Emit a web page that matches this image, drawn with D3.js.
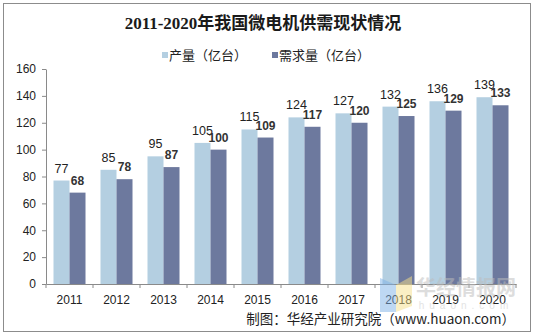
<!DOCTYPE html>
<html><head><meta charset="utf-8">
<script src="https://cdn.jsdelivr.net/npm/d3@7"></script>
<style>body{margin:0;background:#fff;}svg{display:block;}</style>
</head><body>
<script>
const years = ["2011","2012","2013","2014","2015","2016","2017","2018","2019","2020"];
const production = [77,85,95,105,115,124,127,132,136,139];
const demand = [68,78,87,100,109,117,120,125,129,133];
const yTicks = [0,20,40,60,80,100,120,140,160];
const seriesNames = ["产量（亿台）","需求量（亿台）"];
const colors = ["#B4CFE1","#6D799E"];

const W=534,H=335;
const svg=d3.select("body").append("svg").attr("width",W).attr("height",H);
svg.append("rect").attr("x",3.5).attr("y",3.5).attr("width",527).attr("height",328)
  .attr("fill","#fff").attr("stroke","#8c8c8c").attr("stroke-width",1);

const pLeft=46,pRight=516,pTop=69,pBottom=284;
const x=d3.scaleBand().domain(years).range([pLeft,pRight]).paddingInner(0).paddingOuter(0);
const y=d3.scaleLinear().domain([0,160]).range([pBottom,pTop]);
const barW=16;

// title
svg.append("text").attr("x",263).attr("y",29).attr("text-anchor","middle")
  .attr("font-family","'Liberation Serif','Noto Sans CJK SC',serif").attr("font-weight","bold")
  .attr("font-size",17).attr("fill","#1a1a1a").text("2011-2020年我国微电机供需现状情况");

// legend
const leg=[{x:162,t:seriesNames[0],c:colors[0]},{x:272,t:seriesNames[1],c:colors[1]}];
leg.forEach(l=>{
  svg.append("rect").attr("x",l.x).attr("y",52).attr("width",6).attr("height",6).attr("fill",l.c);
  svg.append("text").attr("x",l.x+7).attr("y",60).attr("font-family","'Noto Sans CJK SC',sans-serif")
    .attr("font-size",13).attr("fill","#222").text(l.t);
});

// bars
const g=svg.append("g");
const data=years.map((yr,i)=>({yr,p:production[i],d:demand[i]}));
g.selectAll(".bp").data(data).enter().append("rect")
  .attr("x",d=>x(d.yr)+x.bandwidth()/2-barW).attr("y",d=>y(d.p))
  .attr("width",barW).attr("height",d=>pBottom-y(d.p)).attr("fill",colors[0]);
g.selectAll(".bd").data(data).enter().append("rect")
  .attr("x",d=>x(d.yr)+x.bandwidth()/2).attr("y",d=>y(d.d))
  .attr("width",barW).attr("height",d=>pBottom-y(d.d)).attr("fill",colors[1]);

// value labels
g.selectAll(".lp").data(data).enter().append("text")
  .attr("x",d=>x(d.yr)+x.bandwidth()/2-barW/2).attr("y",d=>y(d.p)-8)
  .attr("text-anchor","middle").attr("font-family","'Liberation Sans',Arial,sans-serif")
  .attr("font-size",12.5).attr("fill","#222").text(d=>d.p);
g.selectAll(".ld").data(data).enter().append("text")
  .attr("x",d=>x(d.yr)+x.bandwidth()/2+barW/2).attr("y",d=>y(d.d)-8)
  .attr("text-anchor","middle").attr("font-family","'Liberation Sans',Arial,sans-serif")
  .attr("font-weight","bold").attr("font-size",12).attr("fill","#333").text(d=>d.d);

// y axis
const ya=svg.append("g").attr("transform",`translate(${pLeft},0)`)
  .call(d3.axisLeft(y).tickValues(yTicks).tickSize(4).tickSizeOuter(0).tickPadding(6));
ya.select(".domain").attr("stroke","#8a8a8a");
ya.selectAll(".tick line").attr("stroke","#8a8a8a");
ya.selectAll("text").attr("font-family","'Liberation Sans',Arial,sans-serif").attr("font-size",12).attr("fill","#222");

// x axis
const xa=svg.append("g").attr("transform",`translate(0,${pBottom})`)
  .call(d3.axisBottom(x).tickSize(0).tickPadding(11));
xa.select(".domain").attr("stroke","#8a8a8a");
xa.selectAll("text").attr("font-family","'Liberation Sans',Arial,sans-serif").attr("font-size",12).attr("fill","#222");
const bounds=years.map(v=>x(v)).concat([pRight]);
xa.selectAll(".bt").data(bounds).enter().append("line")
  .attr("x1",d=>d).attr("x2",d=>d).attr("y1",0).attr("y2",4).attr("stroke","#8a8a8a");

// watermark
const wm=svg.append("g").attr("opacity",0.5);
wm.append("path").attr("d","M380,278 L396,285 L396,312 L380,312 Z").attr("fill","#7fb2e8");
wm.append("path").attr("d","M396,285 L412,276 L412,306 L396,312 Z").attr("fill","#f6e08a");
wm.append("text").attr("x",466).attr("y",295).attr("text-anchor","middle")
  .attr("font-family","'Noto Sans CJK SC',sans-serif").attr("font-weight","bold").attr("font-size",20)
  .attr("fill","#bdbdbd").text("华经情报网");
wm.append("text").attr("x",466).attr("y",309).attr("text-anchor","middle")
  .attr("font-family","'Liberation Sans',Arial,sans-serif").attr("font-size",10).attr("letter-spacing",5)
  .attr("fill","#c8c8c8").text("huaon.com");

// source
svg.append("text").attr("x",515).attr("y",324).attr("text-anchor","end")
  .attr("font-family","'Noto Sans CJK SC',sans-serif").attr("font-size",13.5).attr("fill","#222")
  .text("制图：华经产业研究院（www.huaon.com）");
</script>
</body></html>
